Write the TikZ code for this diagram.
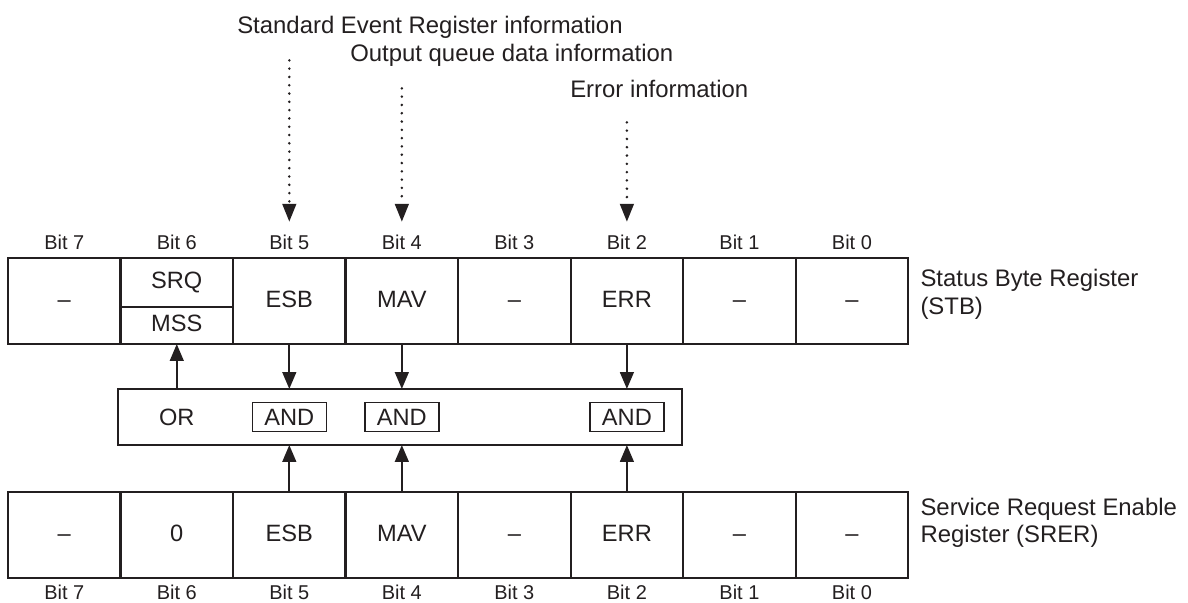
\documentclass[tikz,border=0pt]{standalone}
\usepackage{fontspec}
\setmainfont{Liberation Sans}
\usetikzlibrary{positioning,arrows.meta}
\definecolor{cInk}{HTML}{231F20}

\begin{document}
\begin{tikzpicture}[x=0.025cm,y=-0.025cm,node distance=0pt,color=cInk,
  cell/.style={draw,line width=1.6pt,outer sep=0pt,inner sep=0pt,
               minimum width=2.8125cm,minimum height=2.15cm,
               text height=0.9em,text depth=0pt,
               font=\fontsize{16.8pt}{19pt}\selectfont},
  srqcell/.style={cell,minimum height=1.225cm},
  msscell/.style={cell,minimum height=0.925cm},
  bit/.style={inner sep=0pt,font=\fontsize{14.2pt}{16pt}\selectfont},
  info/.style={inner sep=0pt,anchor=west,text depth=0.2em,
               font=\fontsize{17pt}{20pt}\selectfont},
  side/.style={inner sep=0pt,anchor=west,align=left,
               font=\fontsize{17pt}{19.5pt}\selectfont},
  gate/.style={draw,line width=1.4pt,outer sep=0pt,
               minimum width=14.1cm,minimum height=1.4cm},
  andbox/.style={draw,line width=1.1pt,inner sep=0pt,
                 minimum width=1.85cm,minimum height=0.725cm,
                 font=\fontsize{16.8pt}{19pt}\selectfont},
  ar/.style={-{Triangle[length=0.42cm,width=0.34cm]},line width=1.6pt},
  dotar/.style={-{Triangle[length=0.45cm,width=0.34cm]},line width=2pt,
                line cap=round,dash pattern=on 0pt off 5.9pt}]

\useasboundingbox (0,0) rectangle (1188,603);

% status byte register
\node[cell] (stb7) at (64.25,301) {\textendash};
\node[srqcell,anchor=north west] (srq) at (stb7.north east) {SRQ};
\node[msscell,below=0pt of srq] (mss) {MSS};
\node[cell,anchor=north west] (stb5) at (srq.north east) {ESB};
\node[cell,right=0pt of stb5] (stb4) {MAV};
\node[cell,right=0pt of stb4] (stb3) {\textendash};
\node[cell,right=0pt of stb3] (stb2) {ERR};
\node[cell,right=0pt of stb2] (stb1) {\textendash};
\node[cell,right=0pt of stb1] (stb0) {\textendash};

\node[bit,above=0.2cm of stb7] (t7) {Bit 7};
\node[bit,above=0.2cm of srq] (t6) {Bit 6};
\node[bit,above=0.2cm of stb5] (t5) {Bit 5};
\node[bit,above=0.2cm of stb4] (t4) {Bit 4};
\node[bit,above=0.2cm of stb3] (t3) {Bit 3};
\node[bit,above=0.2cm of stb2] (t2) {Bit 2};
\node[bit,above=0.2cm of stb1] (t1) {Bit 1};
\node[bit,above=0.2cm of stb0] (t0) {Bit 0};

\node[side] (stbname) at ([xshift=0.3cm,yshift=0.17cm]stb0.east)
  {Status Byte Register\\(STB)};

% service request enable register
\node[cell] (sre7) at (64.25,535) {\textendash};
\node[cell,right=0pt of sre7] (sre6) {0};
\node[cell,right=0pt of sre6] (sre5) {ESB};
\node[cell,right=0pt of sre5] (sre4) {MAV};
\node[cell,right=0pt of sre4] (sre3) {\textendash};
\node[cell,right=0pt of sre3] (sre2) {ERR};
\node[cell,right=0pt of sre2] (sre1) {\textendash};
\node[cell,right=0pt of sre1] (sre0) {\textendash};

\node[bit,below=0.175cm of sre7] (u7) {Bit 7};
\node[bit,below=0.175cm of sre6] (u6) {Bit 6};
\node[bit,below=0.175cm of sre5] (u5) {Bit 5};
\node[bit,below=0.175cm of sre4] (u4) {Bit 4};
\node[bit,below=0.175cm of sre3] (u3) {Bit 3};
\node[bit,below=0.175cm of sre2] (u2) {Bit 2};
\node[bit,below=0.175cm of sre1] (u1) {Bit 1};
\node[bit,below=0.175cm of sre0] (u0) {Bit 0};

\node[side] (srername) at ([xshift=0.3cm,yshift=0.3cm]sre0.east)
  {Service Request Enable\\Register (SRER)};

% gates
\node[gate] (orbox) at (400,417) {};
\node[font=\fontsize{16.8pt}{19pt}\selectfont,inner sep=0pt] (orlbl) at (orbox -| srq) {OR};
\node[andbox] (and5) at (orbox -| stb5) {AND};
\node[andbox] (and4) at (orbox -| stb4) {AND};
\node[andbox] (and2) at (orbox -| stb2) {AND};

\draw[ar] (stb5.south) -- (and5 |- orbox.north);
\draw[ar] (stb4.south) -- (and4 |- orbox.north);
\draw[ar] (stb2.south) -- (and2 |- orbox.north);
\draw[ar] (sre5.north) -- (and5 |- orbox.south);
\draw[ar] (sre4.north) -- (and4 |- orbox.south);
\draw[ar] (sre2.north) -- (and2 |- orbox.south);
\draw[ar] (orlbl |- orbox.north) -- (mss.south);

% sources
\node[info] (serinfo) at (237,26) {Standard Event Register information};
\node[info] (oqinfo) at (350,54) {Output queue data information};
\node[info] (errinfo) at (570,90) {Error information};

\draw[dotar,shorten <=0.6cm,shorten >=0.325cm] (serinfo.south -| t5) -- (t5.north);
\draw[dotar,shorten <=0.6cm,shorten >=0.325cm] (oqinfo.south -| t4) -- (t4.north);
\draw[dotar,shorten <=0.55cm,shorten >=0.325cm] (errinfo.south -| t2) -- (t2.north);
\end{tikzpicture}
\end{document}
